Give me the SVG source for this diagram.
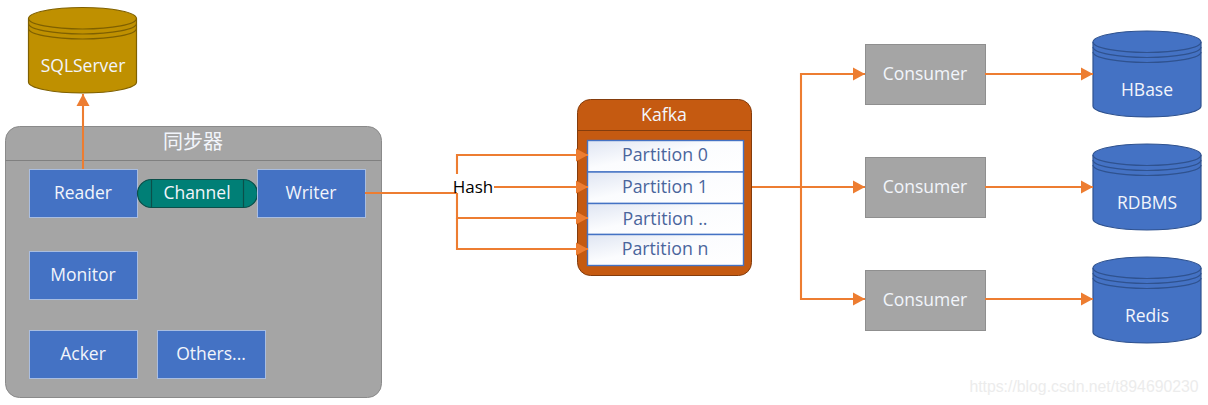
<svg xmlns="http://www.w3.org/2000/svg" width="1208" height="405" viewBox="0 0 1208 405">
<style>
text{font-family:"Open Sans","Noto Sans","Noto Sans CJK SC",sans-serif;font-size:17.5px;text-anchor:middle;fill:#f2f5fb}
.blue{fill:#4472c4;stroke:#a9bde0;stroke-width:1}
.gray{fill:#a5a5a5;stroke:#8a8a8a;stroke-width:1}
.cons{fill:#a5a5a5;stroke:#8f8f8f;stroke-width:1}
.cyl{fill:#4472c4;stroke:#2f528f;stroke-width:1.2}
.cyl2{fill:#bf9000;stroke:#7f6000;stroke-width:1.2}
.part{fill:url(#pg);stroke:#4472c4;stroke-width:1.4}
.ptxt{fill:#4a659c;font-size:17.8px}
.c{fill:none;stroke:#ed7d31;stroke-width:2.1}
.ca{fill:none;stroke:#ed7d31;stroke-width:2.1;marker-end:url(#ah)}
</style>
<defs>
<marker id="ah" markerUnits="userSpaceOnUse" markerWidth="13" markerHeight="14" refX="12" refY="7" orient="auto"><path d="M0,0.500L12,7L0,13.500Z" fill="#ed7d31"/></marker>
<linearGradient id="pg" x1="0" y1="0" x2="1" y2="1"><stop offset="0" stop-color="#dfe5f2"/><stop offset="0.45" stop-color="#fbfcfe"/><stop offset="1" stop-color="#ffffff"/></linearGradient>
</defs>
<g id="sync">
<rect class="gray" x="5.500" y="126.500" width="376" height="271" rx="14"/>
<path d="M5.500 160.500H381.500" stroke="#808080" fill="none"/>
<text x="193" y="149" style="font-size:20px">同步器</text>
</g>
<g id="sqlserver">
<path class="cyl2" d="M28.500 18.500A54 11 0 0 1 136.500 18.500V82A54 11 0 0 1 28.500 82Z"/>
<path class="cyl2" style="fill:none" d="M28.500 18.500A54 10.500 0 0 0 136.500 18.500M28.500 23.500A54 10.500 0 0 0 136.500 23.500M28.500 28.500A54 10.500 0 0 0 136.500 28.500"/>
<text x="83" y="72">SQLServer</text>
</g>
<g id="reader"><rect class="blue" x="29.500" y="169.500" width="108" height="48"/><text x="83" y="199">Reader</text></g>
<g id="channel">
<rect x="137.500" y="179.500" width="120" height="28" rx="14" fill="#007f76" stroke="#0b4f4a" stroke-width="1.2"/>
<path d="M151.500 179.500V207.500M243.500 179.500V207.500" stroke="#0b4f4a" stroke-width="1.200" fill="none"/>
<text x="197" y="199">Channel</text>
</g>
<g id="writer"><rect class="blue" x="257.500" y="169.500" width="108" height="48"/><text x="311" y="199">Writer</text></g>
<g id="monitor"><rect class="blue" x="29.500" y="251.500" width="108" height="48"/><text x="83" y="281">Monitor</text></g>
<g id="acker"><rect class="blue" x="29.500" y="330.500" width="108" height="48"/><text x="83" y="360">Acker</text></g>
<g id="others"><rect class="blue" x="157.500" y="330.500" width="108" height="48"/><text x="211" y="360">Others...</text></g>
<g id="kafka">
<rect x="577.500" y="99.500" width="174" height="176" rx="13" fill="#c55a11" stroke="#843c0c" stroke-width="1"/>
<path d="M577.500 130.500H751.500" stroke="#843c0c" fill="none"/>
<text x="664" y="121" style="font-size:17.800px">Kafka</text>
</g>
<g id="partition0"><rect class="part" x="587.500" y="140.500" width="156" height="31.500"/><text class="ptxt" x="665" y="161">Partition 0</text></g>
<g id="partition1"><rect class="part" x="587.500" y="172" width="156" height="31.500"/><text class="ptxt" x="665" y="193">Partition 1</text></g>
<g id="partition2"><rect class="part" x="587.500" y="203.500" width="156" height="31"/><text class="ptxt" x="665" y="225">Partition ..</text></g>
<g id="partition3"><rect class="part" x="587.500" y="234.500" width="156" height="31"/><text class="ptxt" x="665" y="255">Partition n</text></g>
<g id="consumer1"><rect class="cons" x="865.500" y="44.500" width="120" height="60"/><text x="925" y="80">Consumer</text></g>
<g id="consumer2"><rect class="cons" x="865.500" y="157.500" width="120" height="60"/><text x="925" y="193">Consumer</text></g>
<g id="consumer3"><rect class="cons" x="865.500" y="270.500" width="120" height="60"/><text x="925" y="306">Consumer</text></g>
<g id="hbase">
<path class="cyl" d="M1093 42A54 11 0 0 1 1201 42V106A54 11 0 0 1 1093 106Z"/>
<path class="cyl" style="fill:none" d="M1093 42A54 10.500 0 0 0 1201 42M1093 47A54 10.500 0 0 0 1201 47M1093 52A54 10.500 0 0 0 1201 52"/>
<text x="1147" y="96">HBase</text>
</g>
<g id="rdbms">
<path class="cyl" d="M1093 155A54 11 0 0 1 1201 155V219A54 11 0 0 1 1093 219Z"/>
<path class="cyl" style="fill:none" d="M1093 155A54 10.500 0 0 0 1201 155M1093 160A54 10.500 0 0 0 1201 160M1093 165A54 10.500 0 0 0 1201 165"/>
<text x="1147" y="209">RDBMS</text>
</g>
<g id="redis">
<path class="cyl" d="M1093 268A54 11 0 0 1 1201 268V332A54 11 0 0 1 1093 332Z"/>
<path class="cyl" style="fill:none" d="M1093 268A54 10.500 0 0 0 1201 268M1093 273A54 10.500 0 0 0 1201 273M1093 278A54 10.500 0 0 0 1201 278"/>
<text x="1147" y="322">Redis</text>
</g>
<g id="connectors">
<path class="ca" d="M83 169V94"/>
<path class="c" d="M365 193H457"/>
<path class="ca" d="M457 174V155H588"/>
<path class="ca" d="M494 187H588"/>
<path class="ca" d="M457 193V218H588"/>
<path class="ca" d="M457 218V249H588"/>
<path class="c" d="M752 187H801"/>
<path class="ca" d="M801 187V74H865"/>
<path class="ca" d="M801 187H865"/>
<path class="ca" d="M801 187V299H865"/>
<path class="ca" d="M985 74H1093"/>
<path class="ca" d="M985 187H1093"/>
<path class="ca" d="M985 299H1093"/>
</g>
<text x="473" y="193" style="fill:#000;font-size:17px">Hash</text>
<text x="1084" y="392" style="fill:#ececec;font-family:'Liberation Sans',sans-serif;font-size:15.800px">https://blog.csdn.net/t894690230</text>
</svg>
